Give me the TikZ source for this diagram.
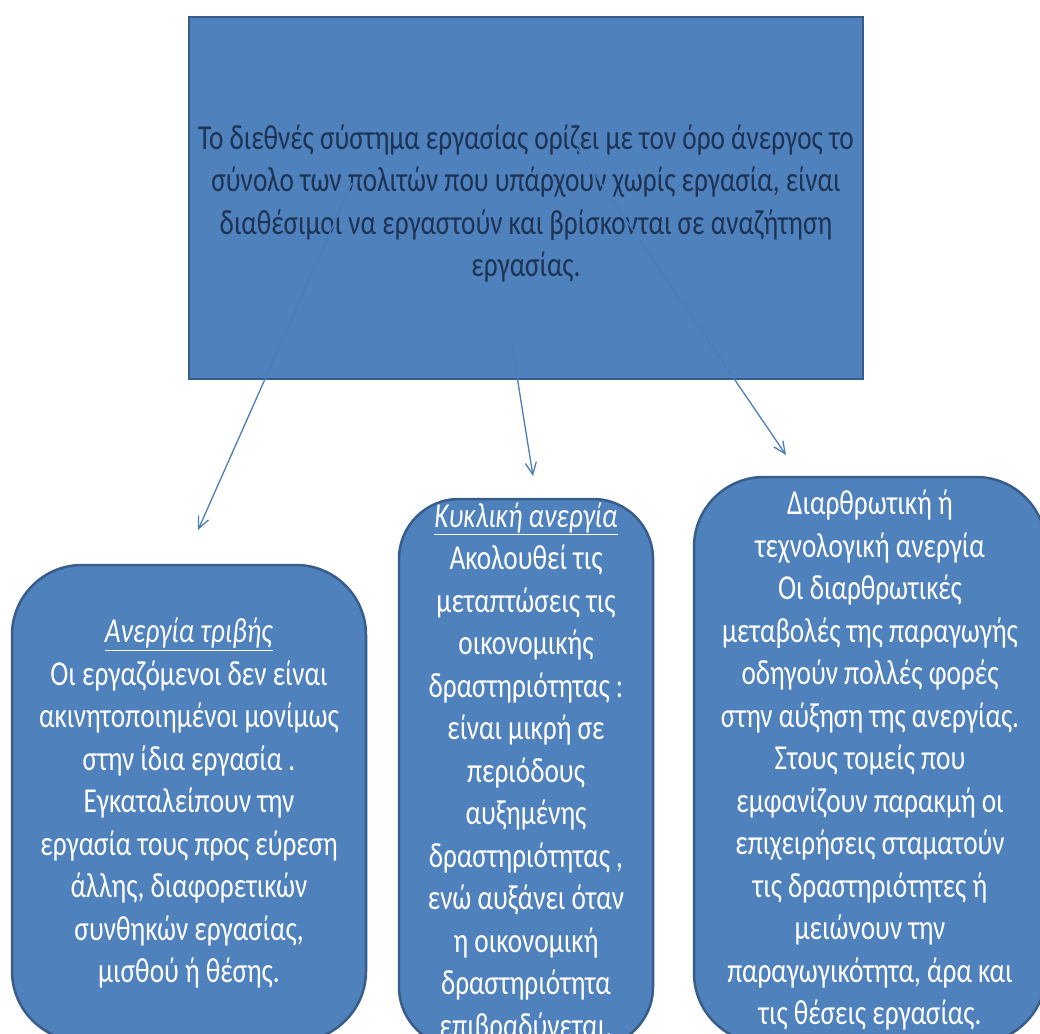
\documentclass[tikz,border=0pt]{standalone}
\usepackage{fontspec}
\setmainfont[FakeStretch=0.78]{Carlito}
\usetikzlibrary{arrows.meta}
\definecolor{boxfill}{HTML}{4F81BD}
\definecolor{boxline}{HTML}{385D8A}
\definecolor{arrowc}{HTML}{4A7EBB}
\definecolor{toptext}{HTML}{1C3354}
\begin{document}
\begin{tikzpicture}[x=1pt,y=-1pt,
  topbox/.style={draw=boxline, line width=2.5pt, fill=boxfill, minimum width=674pt, minimum height=362pt, inner sep=0pt, align=center, text=toptext, font=\fontsize{35}{42.5}\selectfont},
  roundbox/.style={draw=boxline, line width=2.5pt, fill=boxfill, rounded corners=#1, inner sep=0pt, align=center, text=white, font=\fontsize{35}{42.5}\selectfont},
  conn/.style={draw=arrowc, line width=1.3pt, -{Straight Barb[length=12pt,width=11pt]}}]
\useasboundingbox (0,0) rectangle (1040,1033);

\node[topbox] (top) at (526,198) {\rule{0pt}{36pt}Το διεθνές σύστημα εργασίας ορίζει με τον όρο άνεργος το\\
σύνολο των πολιτών που υπάρχουν χωρίς εργασία, είναι\\
διαθέσιμοι να εργαστούν και βρίσκονται σε αναζήτηση\\
εργασίας.};

\node[roundbox=70pt, minimum width=354pt, minimum height=476pt] (fric) at (189,803) {\underline{\textit{Ανεργία τριβής}}\\
Οι εργαζόμενοι δεν είναι\\
ακινητοποιημένοι μονίμως\\
στην ίδια εργασία .\\
Εγκαταλείπουν την\\
εργασία τους προς εύρεση\\
άλλης, διαφορετικών\\
συνθηκών εργασίας,\\
μισθού ή θέσης.};

\node[roundbox=60pt, minimum width=254pt, minimum height=548pt] (cycl) at (526,773) {\underline{\textit{Κυκλική ανεργία}}\\
Ακολουθεί τις\\
μεταπτώσεις τις\\
οικονομικής\\
δραστηριότητας :\\
είναι μικρή σε\\
περιόδους\\
αυξημένης\\
δραστηριότητας ,\\
ενώ αυξάνει όταν\\
η οικονομική\\
δραστηριότητα\\
επιβραδύνεται.};

\node[roundbox=70pt, minimum width=352pt, minimum height=566pt] (struct) at (870,760) {Διαρθρωτική ή\\
τεχνολογική ανεργία\\
Οι διαρθρωτικές\\
μεταβολές της παραγωγής\\
οδηγούν πολλές φορές\\
στην αύξηση της ανεργίας.\\
Στους τομείς που\\
εμφανίζουν παρακμή οι\\
επιχειρήσεις σταματούν\\
τις δραστηριότητες ή\\
μειώνουν την\\
παραγωγικότητα, άρα και\\
τις θέσεις εργασίας.};

\coordinate (s1) at (352,183);
\coordinate (s2) at (512,345);
\coordinate (s3) at (577,148);
\coordinate (e1) at (198,530);
\coordinate (e2) at (533,476);
\coordinate (e3) at (786,455);

\draw[conn] (s1) -- (e1);
\draw[conn] (s2) -- (e2);
\draw[conn] (s3) -- (e3);
\end{tikzpicture}
\end{document}
